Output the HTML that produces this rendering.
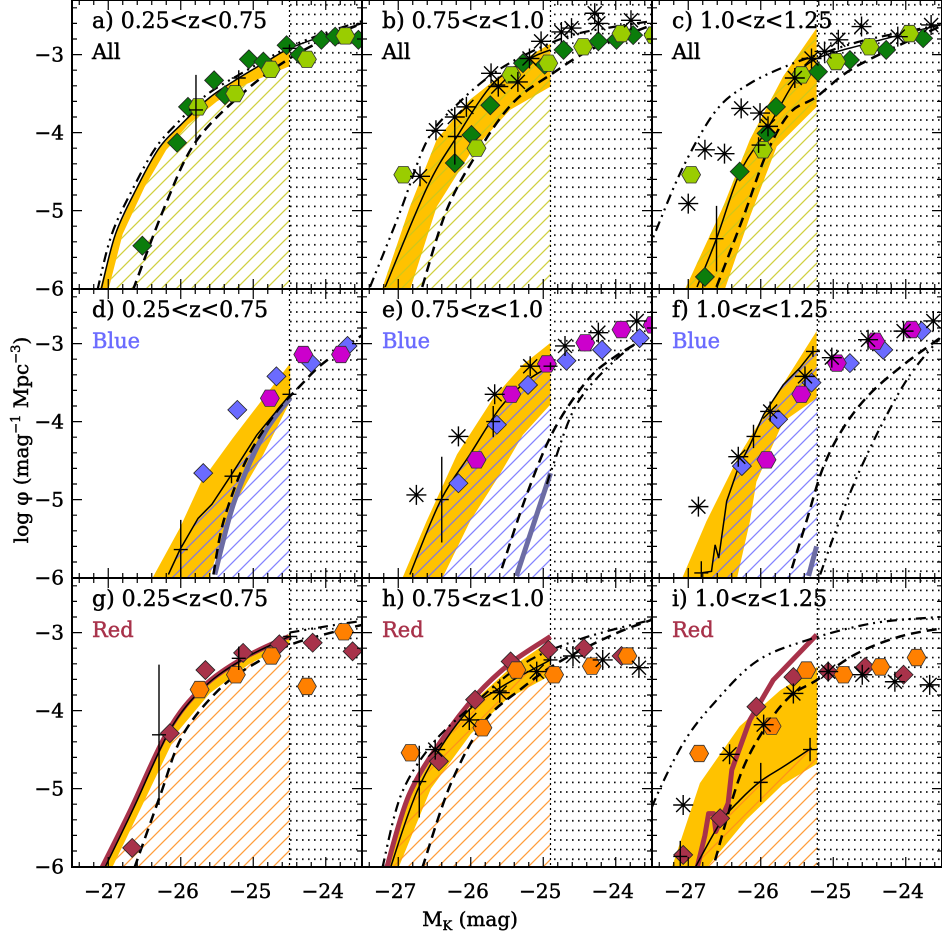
<!DOCTYPE html>
<html><head><meta charset="utf-8"><style>
html,body{margin:0;padding:0;background:#fff;}
svg{display:block;font-family:"DejaVu Serif","Liberation Serif",serif;}
</style></head><body>
<svg id="chart" width="942" height="934" viewBox="0 0 942 934" xmlns="http://www.w3.org/2000/svg">
<defs>
<pattern id="dots" width="6" height="9.6" patternUnits="userSpaceOnUse"><rect x="2" y="4" width="1.6" height="1.6" fill="#000"/></pattern>
<pattern id="h0" width="15" height="15" patternUnits="userSpaceOnUse"><path d="M-2,17 L17,-2 M-5,5 L5,-5 M10,20 L20,10" stroke="#c8c81e" stroke-width="1.3"/></pattern>
<pattern id="h1" width="15" height="15" patternUnits="userSpaceOnUse"><path d="M-2,17 L17,-2 M-5,5 L5,-5 M10,20 L20,10" stroke="#6e6eff" stroke-width="1.3"/></pattern>
<pattern id="h2" width="15" height="15" patternUnits="userSpaceOnUse"><path d="M-2,17 L17,-2 M-5,5 L5,-5 M10,20 L20,10" stroke="#ff8c1a" stroke-width="1.3"/></pattern>
</defs>
</svg>
<script>
// ---- data (M_K, log phi) ----
const limits=[-24.5,-24.9,-25.22];
const aDia=[[-26.53,-5.45],[-26.05,-4.13],[-25.9,-3.67],[-25.54,-3.33],[-25.39,-3.52],[-25.06,-3.06],[-24.86,-3.09],[-24.54,-2.88],[-24.36,-3.0],[-24.06,-2.81],[-23.87,-2.77],[-23.55,-2.81]];
const aHex=[[-25.76,-3.67],[-25.25,-3.5],[-24.76,-3.19],[-24.26,-3.06],[-23.73,-2.76]];
const aStar=[];
const aErr=[[-25.79,-3.71,0.45],[-25.2,-3.3,0.1],[-24.5,-2.92,0.05]];
const aSolid=[[-27.1,-6.02],[-26.9,-5.3],[-26.6,-4.7],[-26.3,-4.2],[-26,-3.9],[-25.6,-3.55],[-25.2,-3.3],[-24.8,-3.08],[-24.5,-2.92],[-24,-2.75],[-23.5,-2.6]];
const aDdd=[[-27.15,-6.02],[-26.95,-5.3],[-26.65,-4.7],[-26.35,-4.2],[-26.05,-3.88],[-25.65,-3.52],[-25.2,-3.26],[-24.8,-3.05],[-24.5,-2.9],[-24,-2.72],[-23.5,-2.57]];
const aDash=[[-26.66,-6.02],[-26.2,-4.9],[-25.78,-4.1],[-25.09,-3.45],[-24.5,-3.05],[-24,-2.8],[-23.5,-2.6]];
const aBandUp=[[-27.12,-6.02],[-26.9,-5.3],[-26.6,-4.7],[-26.3,-4.2],[-26,-3.9],[-25.6,-3.55],[-25.2,-3.3],[-24.8,-3.08],[-24.5,-2.92]];
const aBandLo=[[-27.0,-6.02],[-26.8,-5.3],[-26.5,-4.7],[-26.2,-4.22],[-25.9,-3.9],[-25.5,-3.6],[-25.1,-3.38],[-24.5,-3.15]];

const bDia=[[-26.22,-4.39],[-25.99,-4.03],[-25.73,-3.65],[-25.28,-3.11],[-24.98,-3.13],[-24.72,-2.94],[-24.24,-2.83],[-23.99,-2.81],[-23.76,-2.75]];
const bHex=[[-26.93,-4.54],[-25.92,-4.2],[-25.44,-3.26],[-24.93,-3.11],[-24.45,-2.9],[-23.92,-2.73],[-23.48,-2.75]];
const bStar=[[-26.7,-4.56],[-26.48,-3.97],[-26.22,-3.8],[-26.06,-3.67],[-25.72,-3.24],[-25.62,-3.41],[-25.35,-3.35],[-25.19,-3.05],[-25.03,-2.83],[-24.75,-2.71],[-24.61,-2.66],[-24.29,-2.47],[-24.24,-2.6],[-23.79,-2.56]];
const bErr=[[-26.22,-4.05,0.36],[-25.62,-3.39,0.1]];
const bSolid=[[-27.18,-5.98],[-26.6,-4.7],[-26.19,-4.05],[-25.69,-3.37],[-25.18,-3.05],[-24.9,-2.94]];
const bDdd=[[-27.39,-5.98],[-26.98,-5.03],[-26.6,-4.1],[-26.2,-3.65],[-25.7,-3.25],[-25.2,-2.98],[-24.6,-2.75],[-24,-2.64],[-23.5,-2.57]];
const bDash=[[-26.67,-5.98],[-26.33,-4.99],[-25.91,-4.26],[-25.42,-3.62],[-24.87,-3.24],[-24.31,-2.92],[-23.5,-2.62]];
const bBandUp=[[-27.23,-6.02],[-26.84,-4.95],[-26.47,-4.09],[-26.01,-3.58],[-25.5,-3.2],[-25.05,-2.94],[-24.9,-2.86]];
const bBandLo=[[-26.84,-6.02],[-26.47,-4.95],[-26.01,-4.27],[-25.46,-3.71],[-24.9,-3.41]];

const cDia=[[-26.77,-5.85],[-26.29,-4.5],[-25.92,-4.01],[-25.79,-3.67],[-25.21,-3.22],[-24.77,-3.07],[-24.27,-2.94],[-23.76,-2.79]];
const cHex=[[-26.96,-4.54],[-25.97,-4.22],[-25.44,-3.26],[-24.96,-3.09],[-24.5,-2.9],[-23.95,-2.73]];
const cStar=[[-27.0,-4.91],[-26.77,-4.22],[-26.5,-4.27],[-26.27,-3.69],[-26.01,-3.75],[-25.9,-3.92],[-25.53,-3.3],[-25.3,-3.05],[-25.12,-2.96],[-24.93,-2.81],[-24.61,-2.64],[-24.11,-2.77],[-23.65,-2.62]];
const cErr=[[-26.61,-5.36,0.42],[-26.03,-4.16,0.1],[-25.3,-3.05,0.05]];
const cSolid=[[-26.88,-5.98],[-26.61,-5.36],[-26.29,-4.52],[-25.92,-3.97],[-25.55,-3.37],[-25.27,-3.07],[-24.54,-2.86],[-23.53,-2.62]];
const cDdd=[[-27.6,-5.6],[-27.46,-5.29],[-27.07,-4.44],[-26.61,-3.71],[-26.15,-3.37],[-25.6,-3.13],[-25.14,-2.98],[-24.54,-2.81],[-23.53,-2.62]];
const cDash=[[-26.61,-5.98],[-26.24,-5.08],[-25.92,-4.27],[-25.6,-3.75],[-25.23,-3.54],[-24.68,-3.15],[-23.53,-2.64]];
const cBandUp=[[-27.05,-6.02],[-26.52,-4.95],[-26.15,-4.09],[-25.69,-3.28],[-25.23,-2.66]];
const cBandLo=[[-26.5,-6.02],[-26.15,-5.08],[-25.78,-4.18],[-25.23,-3.67]];

const dDia=[[-25.69,-4.66],[-25.22,-3.85],[-24.68,-3.42],[-24.2,-3.25],[-23.7,-3.03]];
const dHex=[[-24.77,-3.7],[-24.31,-3.14],[-23.79,-3.14]];
const dStar=[];
const dErr=[[-26.0,-5.64,0.38],[-25.3,-4.7,0.09],[-24.5,-3.65,0.05]];
const dSolid=[[-26.17,-5.96],[-26.01,-5.64],[-25.76,-5.24],[-25.57,-5.06],[-25.3,-4.68],[-24.95,-4.17],[-24.49,-3.65]];
const dGrey=[[-25.53,-5.96],[-25.26,-5.02],[-24.86,-4.17],[-24.49,-3.7]];
const dDash=[[-25.55,-5.96],[-25.41,-5.28],[-25.1,-4.5],[-24.7,-3.9],[-24.34,-3.53],[-24.06,-3.27],[-23.56,-2.93],[-23.4,-2.85]];
const dDdd=[];
const dBandUp=[[-26.4,-6.02],[-26.01,-5.36],[-25.72,-4.77],[-25.28,-4.21],[-24.86,-3.7],[-24.49,-3.25]];
const dBandLo=[[-25.62,-6.02],[-25.26,-5.06],[-24.86,-4.42],[-24.49,-3.74]];

const eDia=[[-26.17,-4.79],[-25.64,-4.04],[-25.21,-3.53],[-24.68,-3.22],[-24.19,-3.08],[-23.67,-2.93]];
const eHex=[[-25.92,-4.49],[-25.44,-3.65],[-24.95,-3.26],[-24.42,-2.99],[-23.92,-2.82],[-23.49,-2.76]];
const eStar=[[-26.75,-4.94],[-26.17,-4.19],[-25.67,-3.65],[-25.18,-3.29],[-24.7,-3.03],[-24.24,-2.86],[-23.71,-2.71]];
const eErr=[[-26.4,-5.0,0.55],[-25.69,-4.0,0.2],[-24.9,-3.29,0.05]];
const eSolid=[[-26.84,-5.96],[-26.42,-5.02],[-26.01,-4.42],[-25.6,-3.83],[-25.23,-3.48],[-24.9,-3.29]];
const eGrey=[[-25.37,-5.98],[-24.9,-4.66]];
const eDash=[[-25.57,-5.88],[-25.23,-4.94],[-24.86,-4.12],[-24.4,-3.48],[-24.03,-3.18],[-23.49,-2.88]];
const eDdd=[[-24.95,-4.8],[-24.86,-4.55],[-24.54,-3.78],[-24.03,-3.23],[-23.49,-2.84]];
const eBandUp=[[-26.95,-6.02],[-26.61,-5.28],[-26.19,-4.42],[-25.69,-3.7],[-25.28,-3.27],[-24.9,-2.99]];
const eBandLo=[[-26.4,-6.02],[-26.01,-5.28],[-25.6,-4.68],[-25.28,-4.17],[-24.9,-3.78]];

const fDia=[[-26.26,-4.57],[-25.76,-3.97],[-25.3,-3.5],[-24.77,-3.25],[-24.31,-3.08],[-23.78,-2.84]];
const fHex=[[-25.92,-4.49],[-25.44,-3.65],[-24.95,-3.25],[-24.42,-2.97],[-23.92,-2.82]];
const fStar=[[-26.86,-5.09],[-26.31,-4.45],[-25.87,-3.87],[-25.39,-3.42],[-25.02,-3.18],[-24.52,-2.95],[-24.03,-2.84],[-23.62,-2.71]];
const fErr=[[-26.82,-5.94,0.15],[-26.1,-4.19,0.15],[-25.28,-3.1,0.07]];
const fSolid=[[-26.82,-5.94],[-26.68,-5.92],[-26.63,-5.58],[-26.58,-5.75],[-26.47,-5.02],[-26.31,-4.59],[-26.15,-4.3],[-25.96,-3.91],[-25.69,-3.53],[-25.46,-3.31],[-25.28,-3.1]];
const fGrey=[[-25.34,-5.98],[-25.23,-5.6]];
const fDash=[[-25.57,-5.88],[-25.37,-5.28],[-25.14,-4.59],[-24.86,-4.08],[-24.5,-3.65],[-24.03,-3.27],[-23.53,-2.93]];
const fDdd=[[-25.18,-5.96],[-24.95,-5.36],[-24.68,-4.72],[-24.31,-4.0],[-23.94,-3.4],[-23.53,-2.93]];
const fBandUp=[[-27.09,-6.02],[-26.75,-5.28],[-26.29,-4.42],[-25.78,-3.65],[-25.23,-2.84]];
const fBandLo=[[-26.33,-6.02],[-26.15,-5.28],[-26.06,-4.77],[-25.69,-4.0],[-25.23,-3.7]];

const gDia=[[-26.67,-5.76],[-26.15,-4.29],[-25.66,-3.48],[-25.14,-3.26],[-24.64,-3.15],[-24.18,-3.13],[-23.63,-3.24]];
const gHex=[[-25.74,-3.73],[-25.24,-3.54],[-24.75,-3.3],[-24.26,-3.69],[-23.75,-2.99]];
const gStar=[];
const gErr=[[-26.3,-4.31,0.9],[-25.2,-3.33,0.15],[-24.49,-3.05,0.05]];
const gRed=[[-27.09,-6.02],[-26.7,-5.29],[-26.18,-4.27],[-25.71,-3.71],[-25.14,-3.33],[-24.51,-3.05]];
const gSolid=[[-27.05,-6.02],[-26.65,-5.25],[-26.15,-4.25],[-25.68,-3.7],[-25.12,-3.33],[-24.5,-3.05]];
const gDash=[[-26.64,-6.02],[-26.28,-5.08],[-25.97,-4.31],[-25.45,-3.71],[-24.93,-3.37],[-24.41,-3.13],[-23.5,-2.9]];
const gDdd=[[-24.5,-3.0],[-24.0,-2.92],[-23.5,-2.85]];
const gBandUp=[[-27.1,-6.02],[-26.7,-5.27],[-26.18,-4.25],[-25.71,-3.69],[-25.14,-3.31],[-24.5,-3.02]];
const gBandLo=[[-26.95,-6.02],[-26.55,-5.25],[-26.05,-4.28],[-25.6,-3.78],[-25.05,-3.4],[-24.5,-3.15]];

const hDia=[[-26.44,-4.65],[-25.94,-3.86],[-25.45,-3.37],[-24.93,-3.22],[-24.44,-3.2],[-23.92,-3.3]];
const hHex=[[-26.83,-4.54],[-25.84,-4.22],[-25.37,-3.48],[-24.85,-3.54],[-24.33,-3.43],[-23.84,-3.3]];
const hStar=[[-26.49,-4.5],[-26.02,-4.12],[-25.6,-3.77],[-25.09,-3.5],[-24.59,-3.3],[-24.18,-3.35],[-23.68,-3.45]];
const hErr=[[-26.71,-4.91,0.46],[-25.6,-3.75,0.15],[-24.9,-3.35,0.05]];
const hRed=[[-27.16,-6.02],[-26.85,-5.08],[-26.38,-4.35],[-25.92,-3.8],[-25.45,-3.39],[-24.9,-3.05]];
const hSolid=[[-27.11,-6.02],[-26.7,-4.95],[-26.12,-4.09],[-25.6,-3.71],[-24.9,-3.35]];
const hDash=[[-26.67,-6.02],[-26.28,-4.95],[-25.81,-4.14],[-25.29,-3.71],[-24.77,-3.37],[-24.0,-3.01],[-23.48,-2.83]];
const hDdd=[[-27.22,-6.02],[-26.96,-5.08],[-26.54,-4.44],[-26.02,-3.97],[-25.29,-3.41],[-24.51,-3.09],[-23.48,-2.83]];
const hBandUp=[[-27.15,-6.02],[-26.85,-5.1],[-26.38,-4.38],[-25.92,-3.85],[-25.45,-3.45],[-24.9,-3.1]];
const hBandLo=[[-27.0,-6.02],[-26.55,-5.0],[-26.0,-4.3],[-25.5,-3.85],[-24.9,-3.55]];

const iDia=[[-27.07,-5.85],[-26.56,-5.38],[-26.06,-3.95],[-25.55,-3.57],[-25.07,-3.5],[-24.56,-3.44],[-24.03,-3.54]];
const iHex=[[-26.85,-4.55],[-25.85,-4.2],[-25.37,-3.48],[-24.86,-3.54],[-24.35,-3.44],[-23.85,-3.32]];
const iStar=[[-27.07,-5.21],[-26.43,-4.56],[-25.96,-4.18],[-25.55,-3.78],[-25.07,-3.5],[-24.6,-3.54],[-24.15,-3.63],[-23.67,-3.67]];
const iErr=[[-27.11,-5.87,0.2],[-26.0,-4.92,0.25],[-25.32,-4.5,0.15]];
const iRed=[[-26.88,-6.02],[-26.77,-5.6],[-26.72,-5.32],[-26.65,-5.32],[-26.62,-5.55],[-26.45,-5.19],[-26.4,-4.76],[-26.15,-4.12],[-25.83,-3.61],[-25.23,-3.03]];
const iSolid=[[-26.91,-6.02],[-26.56,-5.44],[-26.29,-5.15],[-26.01,-4.91],[-25.69,-4.72],[-25.3,-4.48]];
const iDash=[[-26.63,-5.92],[-26.29,-4.85],[-25.96,-4.25],[-25.6,-3.82],[-25.23,-3.61],[-24.68,-3.27],[-24.08,-3.05],[-23.53,-2.95]];
const iDdd=[[-27.6,-5.6],[-27.48,-5.19],[-27.07,-4.42],[-26.65,-3.91],[-26.06,-3.37],[-25.37,-3.1],[-24.45,-2.88],[-23.53,-2.8]];
const iBandUp=[[-27.23,-6.02],[-26.84,-4.93],[-26.29,-4.2],[-25.73,-3.74],[-25.22,-3.44]];
const iBandLo=[[-26.75,-6.02],[-26.2,-5.4],[-25.7,-4.95],[-25.22,-4.68]];
const iHatch=[[-26.91,-6.02],[-26.56,-5.44],[-26.29,-5.15],[-26.01,-4.91],[-25.69,-4.72],[-25.22,-4.45]];

const xTicks=[-27,-26,-25,-24];
const xTickLabels=["\u221227","\u221226","\u221225","\u221224"];
const yTicks=[-3,-4,-5,-6];
const yTickLabels=["\u22123","\u22124","\u22125","\u22126"];
const panelTitles=["a) 0.25<z<0.75","b) 0.75<z<1.0","c) 1.0<z<1.25","d) 0.25<z<0.75","e) 0.75<z<1.0","f) 1.0<z<1.25","g) 0.25<z<0.75","h) 0.75<z<1.0","i) 1.0<z<1.25"];
const rowLabels=["All","Blue","Red"];

// ---- layout ----
const cols=[72,362,652], rows=[0,289,578], PW=290, PH=289;
const XMIN=-27.5, XMAX=-23.5, YTOP=-2.3, YBOT=-6.005;
function X(c,m){return cols[c]+(m-XMIN)/(XMAX-XMIN)*PW;}
function Y(r,v){return rows[r]+(YTOP-v)/(YTOP-YBOT)*PH;}
const svg=document.getElementById('chart');
const NS='http://www.w3.org/2000/svg';
function el(tag,attrs,parent){const e=document.createElementNS(NS,tag);for(const k in attrs)e.setAttribute(k,attrs[k]);(parent||svg).appendChild(e);return e;}
function pts(c,r,arr){return arr.map(p=>X(c,p[0]).toFixed(1)+','+Y(r,p[1]).toFixed(1)).join(' ');}
function smooth(c,r,arr){
  const P=arr.map(p=>[X(c,p[0]),Y(r,p[1])]);
  let d='M'+P[0][0].toFixed(1)+','+P[0][1].toFixed(1);
  for(let i=0;i<P.length-1;i++){
    const p0=P[Math.max(0,i-1)],p1=P[i],p2=P[i+1],p3=P[Math.min(P.length-1,i+2)];
    const c1=[p1[0]+(p2[0]-p0[0])/6,p1[1]+(p2[1]-p0[1])/6];
    const c2=[p2[0]-(p3[0]-p1[0])/6,p2[1]-(p3[1]-p1[1])/6];
    d+=`C${c1[0].toFixed(1)},${c1[1].toFixed(1)} ${c2[0].toFixed(1)},${c2[1].toFixed(1)} ${p2[0].toFixed(1)},${p2[1].toFixed(1)}`;
  }
  return d;
}
const TXT={'font-weight':'normal',stroke:'currentColor','stroke-width':0.45};

const rowColors=[{dia:'#0b7d0b',hex:'#9acd00',lab:'#000'},{dia:'#6b6bff',hex:'#cc00cc',lab:'#6b6bff'},{dia:'#a8324a',hex:'#ff8000',lab:'#a8324a'}];
const panels=[
 {c:0,r:0,dia:aDia,hex:aHex,star:aStar,err:aErr,solid:aSolid,dash:aDash,ddd:aDdd,up:aBandUp,lo:aBandLo,hatch:aBandLo},
 {c:1,r:0,dia:bDia,hex:bHex,star:bStar,err:bErr,solid:bSolid,dash:bDash,ddd:bDdd,up:bBandUp,lo:bBandLo,hatch:bBandUp},
 {c:2,r:0,dia:cDia,hex:cHex,star:cStar,err:cErr,solid:cSolid,dash:cDash,ddd:cDdd,up:cBandUp,lo:cBandLo,hatch:cBandUp},
 {c:0,r:1,dia:dDia,hex:dHex,star:dStar,err:dErr,solid:dSolid,dash:dDash,ddd:dDdd,up:dBandUp,lo:dBandLo,hatch:dSolid,grey:dGrey,rough:true},
 {c:1,r:1,dia:eDia,hex:eHex,star:eStar,err:eErr,solid:eSolid,dash:eDash,ddd:eDdd,up:eBandUp,lo:eBandLo,hatch:eSolid,grey:eGrey},
 {c:2,r:1,dia:fDia,hex:fHex,star:fStar,err:fErr,solid:fSolid,dash:fDash,ddd:fDdd,up:fBandUp,lo:fBandLo,hatch:fSolid,grey:fGrey,rough:true},
 {c:0,r:2,dia:gDia,hex:gHex,star:gStar,err:gErr,solid:gSolid,dash:gDash,ddd:gDdd,up:gBandUp,lo:gBandLo,hatch:gBandLo,red:gRed},
 {c:1,r:2,dia:hDia,hex:hHex,star:hStar,err:hErr,solid:hSolid,dash:hDash,ddd:hDdd,up:hBandUp,lo:hBandLo,hatch:hSolid,red:hRed},
 {c:2,r:2,dia:iDia,hex:iHex,star:iStar,err:iErr,solid:iSolid,dash:iDash,ddd:iDdd,up:iBandUp,lo:iBandLo,hatch:iHatch,red:iRed,roughRed:true}
];

const defs=svg.querySelector('defs');
panels.forEach((p,idx)=>{
  const c=p.c,r=p.r,col=rowColors[r];
  const cp=el('clipPath',{id:'clip'+idx},defs);
  el('rect',{x:cols[c],y:rows[r],width:PW,height:PH},cp);
  const g=el('g',{'clip-path':'url(#clip'+idx+')'});
  
  
  const lim=limits[c];
  const band=el('polygon',{points:pts(c,r,p.up)+' '+pts(c,r,p.lo.slice().reverse()),fill:'#ffc200'},g);
  
  
  const h=p.hatch, hp=h.concat([[lim,h[h.length-1][1]],[lim,-6.3],[h[0][0],-6.3]]);
  const hatch=el('polygon',{points:pts(c,r,hp),fill:'url(#h'+r+')',opacity:'0.85'},g);
  
  
  const dr=el('rect',{x:X(c,lim),y:rows[r],width:cols[c]+PW-X(c,lim),height:PH,fill:'url(#dots)'},g);
  
  
  const dl=el('line',{x1:X(c,lim),x2:X(c,lim),y1:rows[r],y2:rows[r]+PH,stroke:'#000','stroke-width':1.2,'stroke-dasharray':'2,3'},g);
  
  
  if(p.grey){const l=el('path',{d:smooth(c,r,p.grey),fill:'none',stroke:'#6c6ca4','stroke-width':5},g);
    }
  if(p.red){const l=el('path',{d:p.roughRed?('M'+pts(c,r,p.red).replace(/ /g,' L')):smooth(c,r,p.red),fill:'none',stroke:'#a8324a','stroke-width':5,'stroke-linejoin':'round'},g);
    }
  if(p.ddd.length){const l=el('path',{d:smooth(c,r,p.ddd),fill:'none',stroke:'#000','stroke-width':2.2,'stroke-dasharray':'10,5,2,5,2,5'},g);
    }
  const ld=el('path',{d:smooth(c,r,p.dash),fill:'none',stroke:'#000','stroke-width':2.5,'stroke-dasharray':'10,6'},g);
  
  const ls=el('path',{d:p.rough?('M'+pts(c,r,p.solid).replace(/ /g,' L')):smooth(c,r,p.solid),fill:'none',stroke:'#000','stroke-width':1.5},g);
  
  p.dia.forEach(d=>{const x=X(c,d[0]),y=Y(r,d[1]),s=9.5;
    const m=el('polygon',{points:`${x},${y-s} ${x+s},${y} ${x},${y+s} ${x-s},${y}`,fill:col.dia,stroke:'#222','stroke-width':0.8},g);
    });
  p.hex.forEach(d=>{const x=X(c,d[0]),y=Y(r,d[1]),s=9.5;let q=[];
    for(let k=0;k<6;k++){const a=Math.PI/3*k;q.push((x+s*Math.cos(a)).toFixed(1)+','+(y+s*Math.sin(a)).toFixed(1));}
    const m=el('polygon',{points:q.join(' '),fill:col.hex,stroke:'#333','stroke-width':0.8},g);
    });
  p.star.forEach(d=>{const x=X(c,d[0]),y=Y(r,d[1]),s=10;
    const m=el('path',{d:`M${x-s},${y}H${x+s}M${x},${y-s}V${y+s}M${x-s*.7},${y-s*.7}L${x+s*.7},${y+s*.7}M${x-s*.7},${y+s*.7}L${x+s*.7},${y-s*.7}`,stroke:'#000','stroke-width':1.4,fill:'none'},g);
    });
  p.err.forEach(d=>{const x=X(c,d[0]),y=Y(r,d[1]);
    const m=el('path',{d:`M${x},${Y(r,d[1]+d[2])}V${Y(r,d[1]-d[2])}M${x-7},${y}H${x+7}`,stroke:'#000','stroke-width':1.4,fill:'none'},g);
    });
  const fr=el('rect',{x:cols[c],y:rows[r],width:PW,height:PH,fill:'none',stroke:'#000','stroke-width':2});
  
  let d='';
  for(let m=-27.4;m<=-23.5;m+=0.2){const v=Math.round(m*10)/10;const maj=Math.abs(v-Math.round(v))<0.01;const L=maj?10:5;const x=X(c,v);
    d+=`M${x},${rows[r]+PH}v${-L}M${x},${rows[r]}v${L}`;}
  for(let v=-6;v<=-2.3;v+=0.2){const vv=Math.round(v*10)/10;const maj=Math.abs(vv-Math.round(vv))<0.01;const L=maj?10:5;const y=Y(r,vv);
    d+=`M${cols[c]},${y}h${L}M${cols[c]+PW},${y}h${-L}`;}
  const tk=el('path',{d:d,stroke:'#000','stroke-width':1.2,fill:'none'});
  
  const t=el('text',Object.assign({x:cols[c]+20,y:rows[r]+28,'font-size':22,fill:'#000',color:'#000'},TXT));
  t.textContent=panelTitles[idx];
  
  const t2=el('text',Object.assign({x:cols[c]+20,y:rows[r]+59,'font-size':21,fill:col.lab,color:col.lab},TXT));
  t2.textContent=rowLabels[r];
  
});
[0,1,2].forEach(r=>{yTicks.forEach((v,i)=>{
  const t=el('text',Object.assign({x:64,y:Y(r,v)+7,'font-size':20,'text-anchor':'end',color:'#000'},TXT));
  t.textContent=yTickLabels[i];
  });});
[0,1,2].forEach(c=>{xTicks.forEach((m,i)=>{
  const t=el('text',Object.assign({x:X(c,m)-3,y:898,'font-size':20,'text-anchor':'middle',color:'#000'},TXT));
  t.textContent=xTickLabels[i];
  });});
const xt=el('text',Object.assign({x:470,y:926,'font-size':20,'text-anchor':'middle',color:'#000'},TXT));
xt.innerHTML='M<tspan font-size="13" dy="4">K</tspan><tspan dy="-4"> (mag)</tspan>';

const yt=el('text',Object.assign({x:0,y:0,'font-size':20,'text-anchor':'middle',color:'#000',transform:'translate(28,440) rotate(-90)'},TXT));
yt.innerHTML='log \u03c6 (mag<tspan font-size="13" dy="-8">\u22121</tspan><tspan dy="8"> Mpc</tspan><tspan font-size="13" dy="-8">\u22123</tspan><tspan dy="8">)</tspan>';

</script>
</body></html>
